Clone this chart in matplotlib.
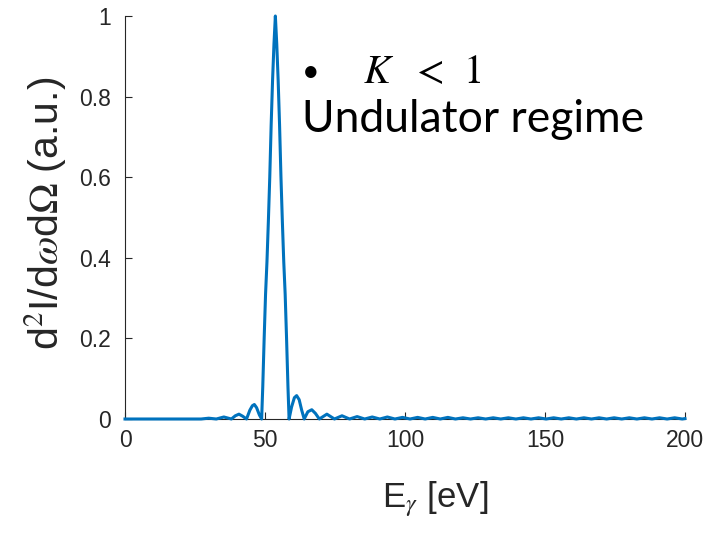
import numpy as np
import matplotlib.pyplot as plt

# spectrum, split into three pieces
LEFT_E = [0.0, 10.0, 20.0, 27.2, 29.9, 32.6, 35.3, 38.0, 39.4, 40.7, 42.0, 43.4,
          44.6, 45.5, 46.2, 47.0, 48.0]
LEFT_I = [0.0, 0.0, 0.0, 0.0, 0.002, 0.0, 0.005, 0.0, 0.008, 0.012, 0.007, 0.0,
          0.022, 0.033, 0.036, 0.028, 0.010]

PEAK_E = [48.8, 49.2, 49.7, 50.2, 50.7, 51.2, 51.7, 52.2, 52.7, 53.2, 53.7,
          54.2, 54.7, 55.2, 55.7, 56.2, 56.7, 57.2, 57.7, 58.2, 58.6]
PEAK_I = [0.0, 0.08, 0.20, 0.31, 0.39, 0.49, 0.60, 0.73, 0.84, 0.93, 1.0,
          0.93, 0.84, 0.73, 0.60, 0.49, 0.39, 0.31, 0.20, 0.08, 0.0]

RIGHT_E = [59.5, 60.5, 61.3, 62.2, 63.1, 64.0, 65.3, 66.7, 68.0, 69.4, 72.1, 74.8,
           77.5, 80.2, 82.9, 85.6, 88.3, 91.0, 93.7, 96.4, 99.1, 101.8, 104.5,
           107.2, 109.9, 112.6, 115.3, 118.0, 120.7, 123.4, 126.1, 128.8, 131.5,
           134.2, 136.9, 139.6, 142.3, 145.0, 147.7, 150.4, 153.1, 155.8, 158.5,
           161.2, 163.9, 166.6, 169.3, 172.0, 174.7, 177.4, 180.1, 182.8, 185.5,
           188.2, 190.9, 193.6, 196.3, 199.0, 200.0]
RIGHT_I = [0.030, 0.053, 0.058, 0.048, 0.022, 0.0, 0.018, 0.023, 0.014, 0.0, 0.012, 0.0,
           0.008, 0.0, 0.006, 0.0, 0.005, 0.0, 0.005, 0.0, 0.004, 0.0, 0.004,
           0.0, 0.004, 0.0, 0.004, 0.0, 0.003, 0.0, 0.003, 0.0, 0.003,
           0.0, 0.003, 0.0, 0.003, 0.0, 0.003, 0.0, 0.003, 0.0, 0.003,
           0.0, 0.003, 0.0, 0.003, 0.0, 0.003, 0.0, 0.003, 0.0, 0.003,
           0.0, 0.003, 0.0, 0.003, 0.0, 0.001]

X_TICKS = [0, 50, 100, 150, 200]
Y_TICKS = [0, 0.2, 0.4, 0.6, 0.8, 1]
Y_TICK_LABELS = ["0", "0.2", "0.4", "0.6", "0.8", "1"]

W, H = 720, 533
GRAY = "#262626"
BLUE = "#0072BD"

plt.rcParams["font.family"] = ["Liberation Sans", "DejaVu Sans"]
plt.rcParams["mathtext.fontset"] = "stix"

energy = np.array(LEFT_E + PEAK_E + RIGHT_E)
intensity = np.array(LEFT_I + PEAK_I + RIGHT_I)

fig = plt.figure(figsize=(W / 100, H / 100), dpi=100)
ax = fig.add_axes([125 / W, 1 - 419 / H, 560 / W, 403 / H])

ax.plot(energy, intensity, color=BLUE, lw=2.2, clip_on=False, zorder=3)

ax.set_xlim(0, 200)
ax.set_ylim(0, 1)
ax.set_xticks(X_TICKS)
ax.set_yticks(Y_TICKS)
ax.set_yticklabels(Y_TICK_LABELS)
for side in ["top", "right"]:
    ax.spines[side].set_visible(False)
for side in ["left", "bottom"]:
    ax.spines[side].set_color(GRAY)
    ax.spines[side].set_linewidth(0.8)
ax.tick_params(direction="in", length=5, width=0.8, color=GRAY,
               labelcolor=GRAY, labelsize=16.5)
ax.tick_params(axis="y", pad=10)
ax.tick_params(axis="x", pad=7)

fig.text(435 / W, 1 - 499 / H, r"E$_\gamma$ [eV]", ha="center", va="center",
         fontsize=25, color=GRAY)
fig.text(45 / W, 1 - 213 / H, r"d$^2$I/d$\omega$d$\Omega$ (a.u.)", ha="center", va="center",
         rotation=90, fontsize=29.5, color=GRAY)

# annotation on the right of the peak
fig.text(311 / W, 1 - 72 / H, "\u2022", ha="center", va="center",
         fontsize=22, color="black", fontfamily=["Lato", "DejaVu Sans"])
for x_px, part in [(363, r"$K$"), (411, r"$<$"), (463, r"$1$")]:
    fig.text(x_px / W, 1 - 83 / H, part, ha="left", va="baseline",
             fontsize=29, color="black")
fig.text(302 / W, 1 - 132 / H, "Undulator regime", ha="left", va="baseline",
         fontsize=32, color="black", fontfamily=["Lato", "DejaVu Sans"])

fig.savefig("out.png", dpi=100)
